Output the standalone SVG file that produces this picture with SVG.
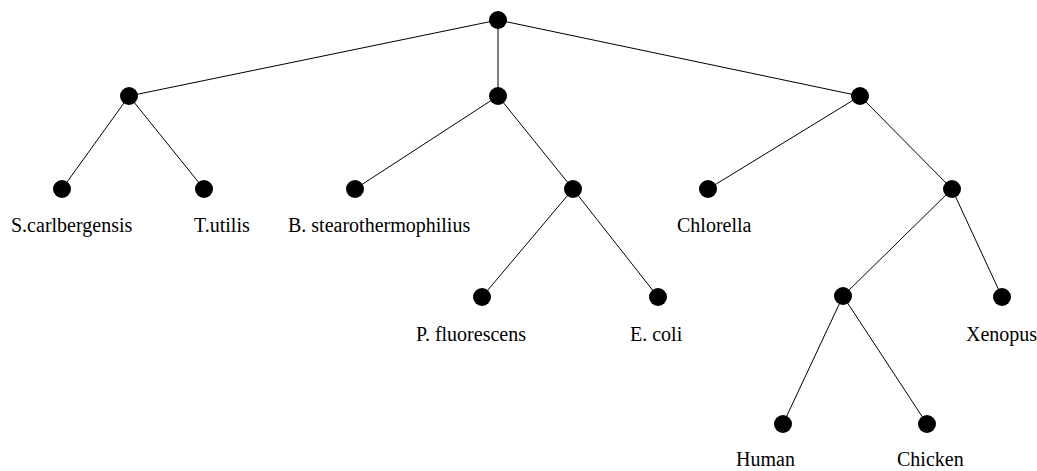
<svg xmlns="http://www.w3.org/2000/svg" width="1037" height="471" viewBox="0 0 1037 471">
<style>
.n{fill:#000}
.e{stroke:#000;stroke-width:1;fill:none}
text{font-family:"Liberation Serif","Times New Roman",serif;font-size:20px;fill:#000}
</style>
<rect width="1037" height="471" fill="#fff"/>
<g id="connectors" class="e">
<line x1="498" y1="20" x2="129" y2="96"/>
<line x1="498" y1="20" x2="498" y2="96"/>
<line x1="498" y1="20" x2="860" y2="96"/>
<line x1="129" y1="96" x2="62" y2="189"/>
<line x1="129" y1="96" x2="204" y2="189"/>
<line x1="498" y1="96" x2="355" y2="189"/>
<line x1="498" y1="96" x2="573" y2="189"/>
<line x1="860" y1="96" x2="708" y2="189"/>
<line x1="860" y1="96" x2="952" y2="189"/>
<line x1="573" y1="189" x2="482" y2="297"/>
<line x1="573" y1="189" x2="658" y2="297"/>
<line x1="952" y1="189" x2="843" y2="296"/>
<line x1="952" y1="189" x2="1002" y2="297"/>
<line x1="843" y1="296" x2="783" y2="424"/>
<line x1="843" y1="296" x2="927" y2="424"/>
</g>
<g id="root"><circle class="n" cx="498" cy="20" r="9"/></g>
<g id="n1"><circle class="n" cx="129" cy="96" r="9"/></g>
<g id="n2"><circle class="n" cx="498" cy="96" r="9"/></g>
<g id="n3"><circle class="n" cx="860" cy="96" r="9"/></g>
<g id="scarlbergensis"><circle class="n" cx="62" cy="189" r="9"/><text x="11" y="232">S.carlbergensis</text></g>
<g id="tutilis"><circle class="n" cx="204" cy="189" r="9"/><text x="194" y="232">T.utilis</text></g>
<g id="bstearo"><circle class="n" cx="355" cy="189" r="9"/><text x="288" y="232">B. stearothermophilius</text></g>
<g id="n4"><circle class="n" cx="573" cy="189" r="9"/></g>
<g id="chlorella"><circle class="n" cx="708" cy="189" r="9"/><text x="677" y="232">Chlorella</text></g>
<g id="n5"><circle class="n" cx="952" cy="189" r="9"/></g>
<g id="pfluorescens"><circle class="n" cx="482" cy="297" r="9"/><text x="416" y="341">P. fluorescens</text></g>
<g id="ecoli"><circle class="n" cx="658" cy="297" r="9"/><text x="630" y="341">E. coli</text></g>
<g id="n6"><circle class="n" cx="843" cy="296" r="9"/></g>
<g id="xenopus"><circle class="n" cx="1002" cy="297" r="9"/><text x="966" y="341">Xenopus</text></g>
<g id="human"><circle class="n" cx="783" cy="424" r="9"/><text x="736" y="466">Human</text></g>
<g id="chicken"><circle class="n" cx="927" cy="424" r="9"/><text x="897" y="466">Chicken</text></g>
</svg>
